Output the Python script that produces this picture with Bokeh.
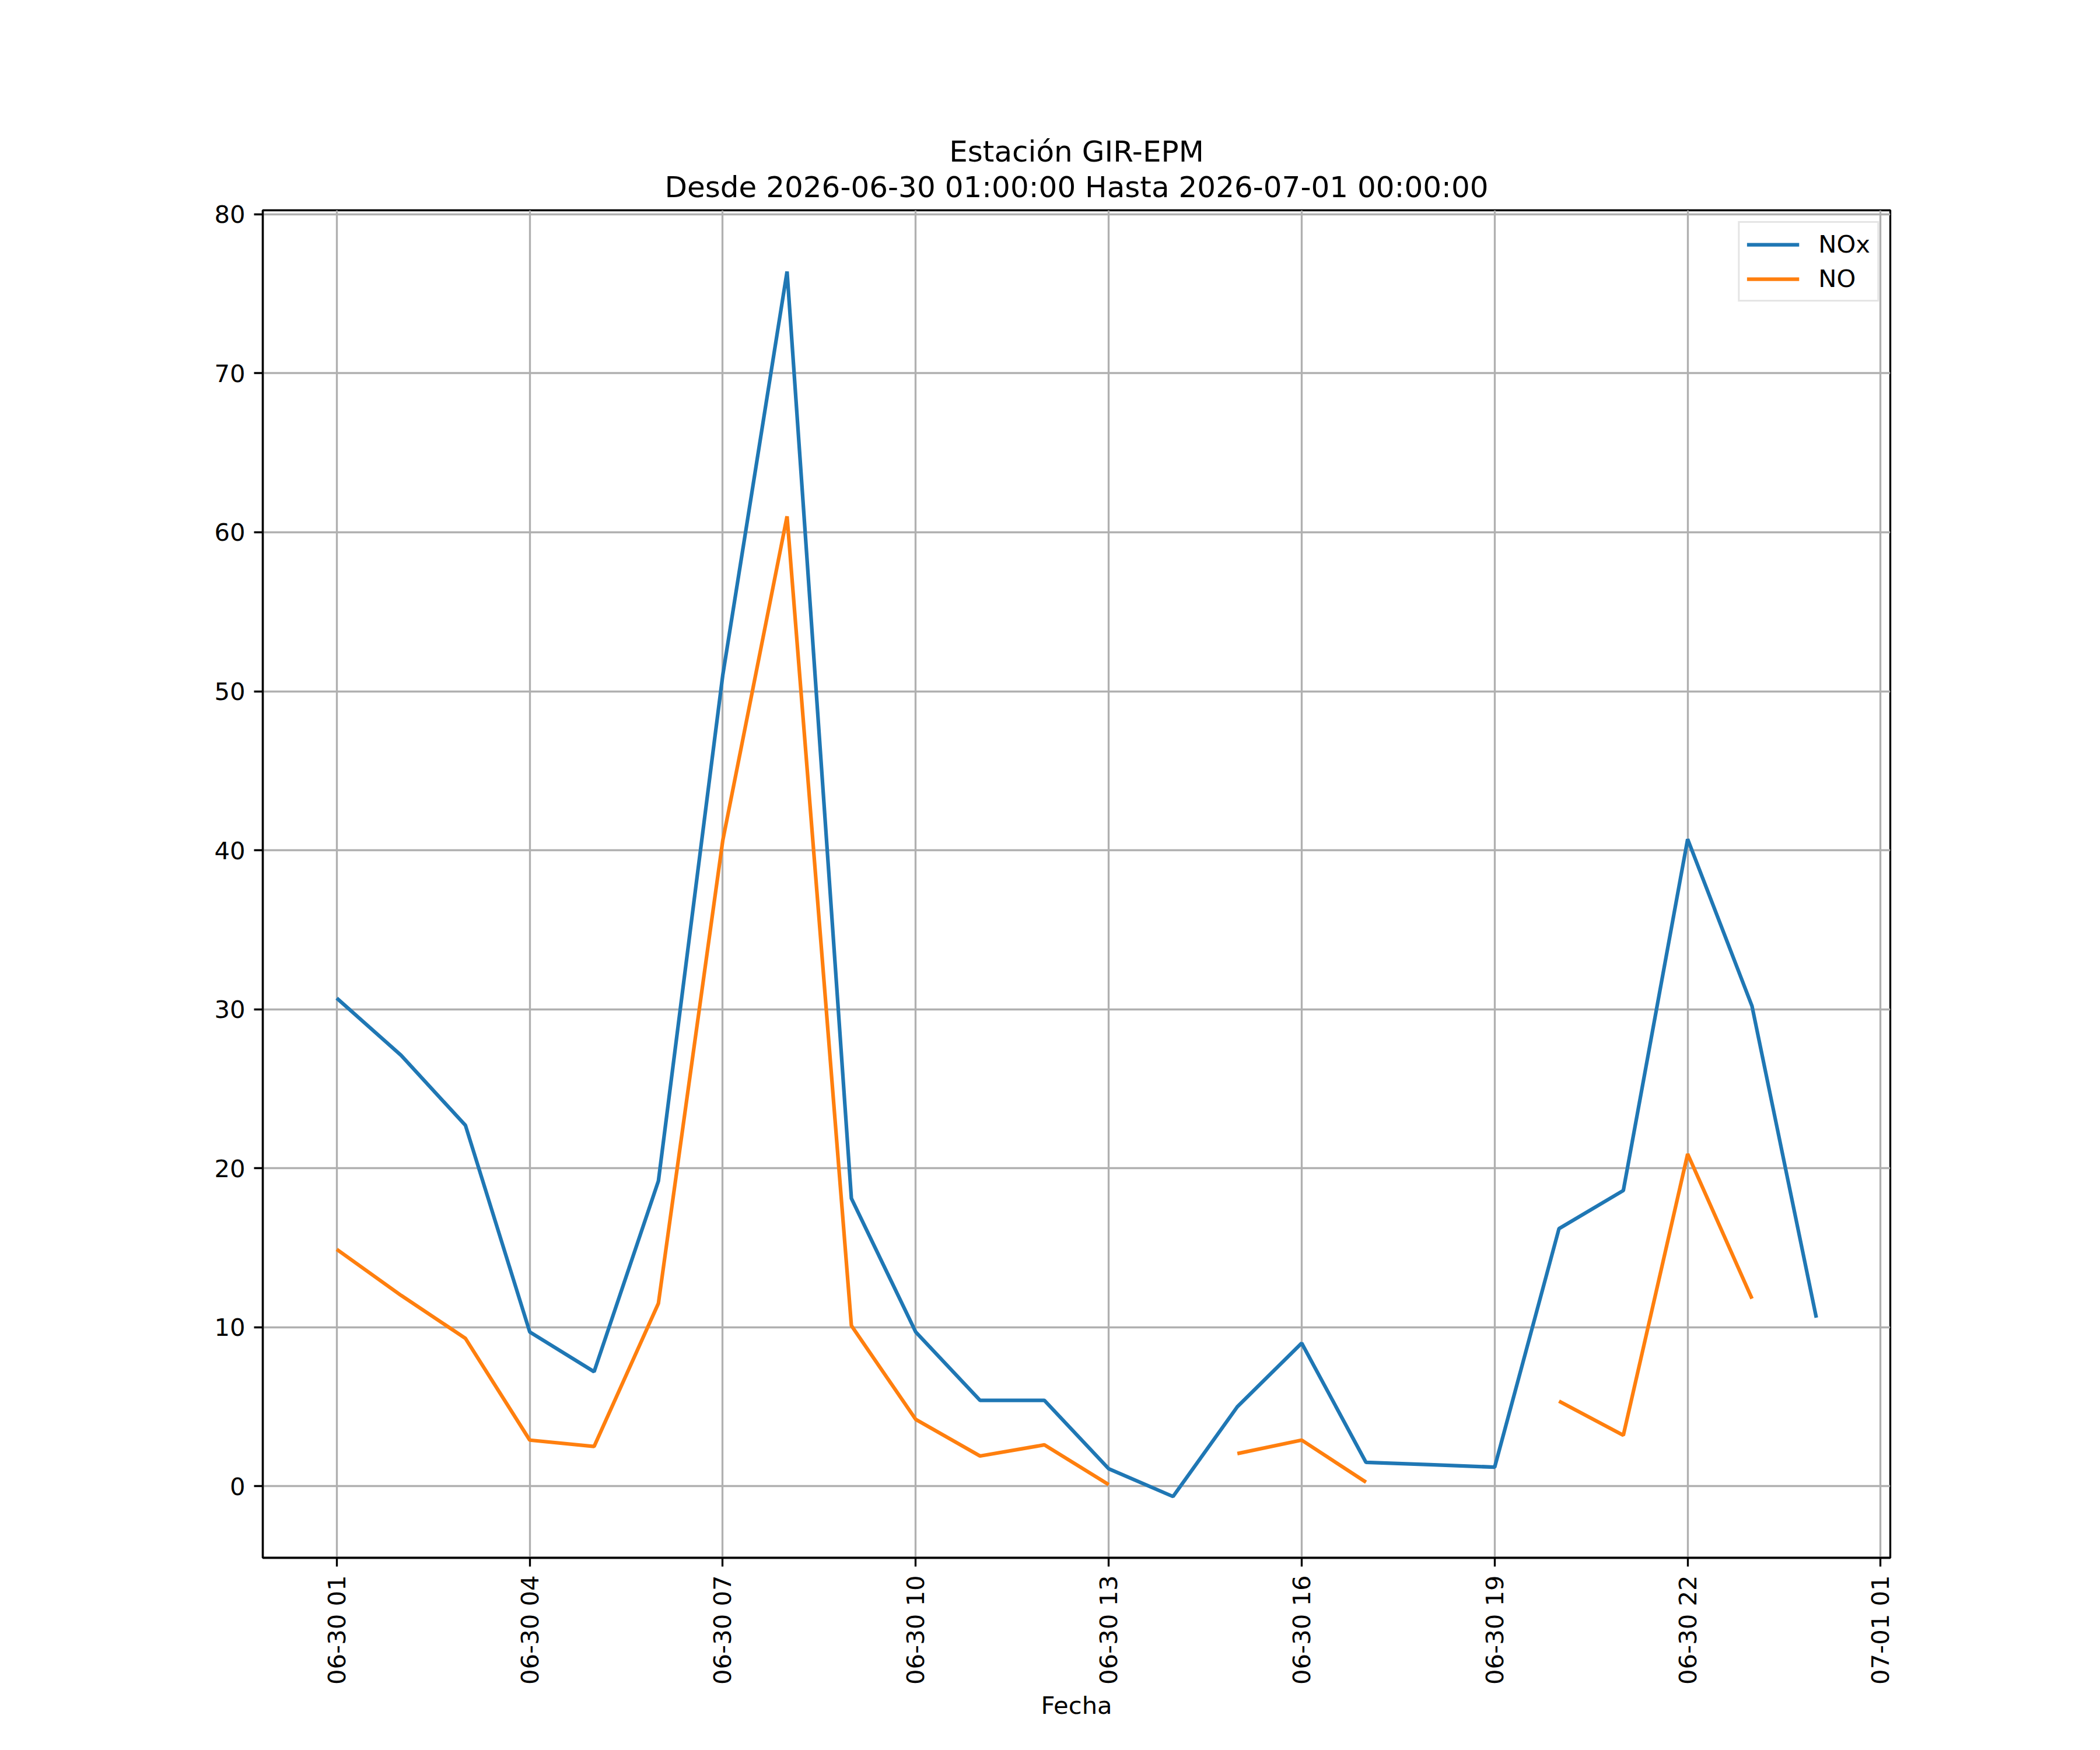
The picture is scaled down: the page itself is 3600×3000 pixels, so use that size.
import numpy as np
import pandas as pd
from bokeh.plotting import figure
from bokeh.models import Range1d, FixedTicker, DatetimeTickFormatter, Title
from bokeh.embed import file_html
from bokeh.resources import INLINE

# ---- data ----
times = [
    "2026-06-30 01:00", "2026-06-30 02:00", "2026-06-30 03:00", "2026-06-30 04:00",
    "2026-06-30 05:00", "2026-06-30 06:00", "2026-06-30 07:00", "2026-06-30 08:00",
    "2026-06-30 09:00", "2026-06-30 10:00", "2026-06-30 11:00", "2026-06-30 12:00",
    "2026-06-30 13:00", "2026-06-30 14:00", "2026-06-30 15:00", "2026-06-30 16:00",
    "2026-06-30 17:00", "2026-06-30 18:00", "2026-06-30 19:00", "2026-06-30 20:00",
    "2026-06-30 21:00", "2026-06-30 22:00", "2026-06-30 23:00", "2026-07-01 00:00",
]
nox = [30.7, 27.1, 22.7, 9.7, 7.2, 19.2, 51.0, 76.4, 18.1, 9.7, 5.4, 5.4,
       1.1, -0.65, 5.0, 9.0, 1.5, 1.35, 1.2, 16.2, 18.6, 40.7, 30.2, 10.6]
no = [14.9, 12.0, 9.3, 2.9, 2.5, 11.5, 40.6, 61.0, 10.1, 4.2, 1.9, 2.6,
      0.1, np.nan, 2.05, 2.9, 0.25, np.nan, np.nan, 5.35, 3.2, 20.9, 11.8, np.nan]
x_tick_times = ["2026-06-30 01:00", "2026-06-30 04:00", "2026-06-30 07:00",
                "2026-06-30 10:00", "2026-06-30 13:00", "2026-06-30 16:00",
                "2026-06-30 19:00", "2026-06-30 22:00", "2026-07-01 01:00"]
y_ticks = [0, 10, 20, 30, 40, 50, 60, 70, 80]
title_line1 = "Estación GIR-EPM"
title_line2 = "Desde 2026-06-30 01:00:00 Hasta 2026-07-01 00:00:00"
x_label = "Fecha"

def to_ms(s):
    return pd.Timestamp(s).value / 1e6

xs = [to_ms(t) for t in times]
ticks_ms = [to_ms(t) for t in x_tick_times]

span = xs[-1] - xs[0]
allv = np.array([v for v in nox + no if not np.isnan(v)])
vmin, vmax = allv.min(), allv.max()
vr = vmax - vmin

FONT = "DejaVu Sans"
FS = "41.7px"
LW = 3.33

p = figure(
    frame_width=2790, frame_height=2310,
    min_border_left=450, min_border_right=344,
    min_border_top=360, min_border_bottom=314,
    x_range=Range1d(xs[0] - 0.05 * span, xs[-1] + 0.05 * span),
    y_range=Range1d(vmin - 0.05 * vr, vmax + 0.05 * vr),
    x_axis_type="datetime",
    output_backend="svg", toolbar_location=None, title=None,
)
p.background_fill_color = "white"
p.border_fill_color = "white"
p.outline_line_color = "black"
p.outline_line_width = LW
p.outline_line_alpha = 1.0

p.line(xs, nox, line_color="#1f77b4", line_width=6.25, legend_label="NOx")
p.line(xs, no, line_color="#ff7f0e", line_width=6.25, legend_label="NO")

# titles (later added sits further from the frame)
t2 = Title(text=title_line2, align="center", text_font=FONT, text_font_size="50px",
           text_font_style="normal", text_color="black", standoff=22)
p.add_layout(t2, "above")
t1 = Title(text=title_line1, align="center", text_font=FONT, text_font_size="50px",
           text_font_style="normal", text_color="black", standoff=-20)
p.add_layout(t1, "above")

# axes
p.xaxis.ticker = FixedTicker(ticks=ticks_ms)
fmt = "%m-%d %H"
p.xaxis.formatter = DatetimeTickFormatter(
    milliseconds=fmt, seconds=fmt, minsec=fmt, minutes=fmt, hourmin=fmt,
    hours=fmt, days=fmt, months=fmt, years=fmt)
p.xaxis.major_label_orientation = np.pi / 2
p.yaxis.ticker = FixedTicker(ticks=y_ticks)
p.xaxis.axis_label = x_label
for ax in (p.xaxis, p.yaxis):
    ax.axis_line_color = "black"
    ax.axis_line_width = LW
    ax.major_tick_line_color = "black"
    ax.major_tick_line_width = LW
    ax.major_tick_in = 0
    ax.major_tick_out = 15
    ax.minor_tick_line_color = None
    ax.major_label_text_font = FONT
    ax.major_label_text_font_size = FS
    ax.major_label_text_color = "black"
    ax.major_label_standoff = 15
    ax.axis_label_text_font = FONT
    ax.axis_label_text_font_size = FS
    ax.axis_label_text_font_style = "normal"
    ax.axis_label_text_color = "black"
    ax.axis_label_standoff = 8

p.xgrid.ticker = FixedTicker(ticks=ticks_ms)
p.ygrid.ticker = FixedTicker(ticks=y_ticks)
p.grid.grid_line_color = "#b0b0b0"
p.grid.grid_line_width = LW

lg = p.legend[0]
lg.location = "top_right"
lg.margin = 19
lg.padding = 12
lg.spacing = 10
lg.glyph_width = 90
lg.glyph_height = 42
lg.label_height = 42
lg.label_standoff = 33
lg.label_text_font = FONT
lg.label_text_font_size = FS
lg.label_text_color = "black"
lg.label_text_baseline = "middle"
lg.border_line_color = "#cccccc"
lg.border_line_width = LW
lg.background_fill_color = "white"
lg.background_fill_alpha = 0.8

open("out.html", "w").write(file_html(p, INLINE))
